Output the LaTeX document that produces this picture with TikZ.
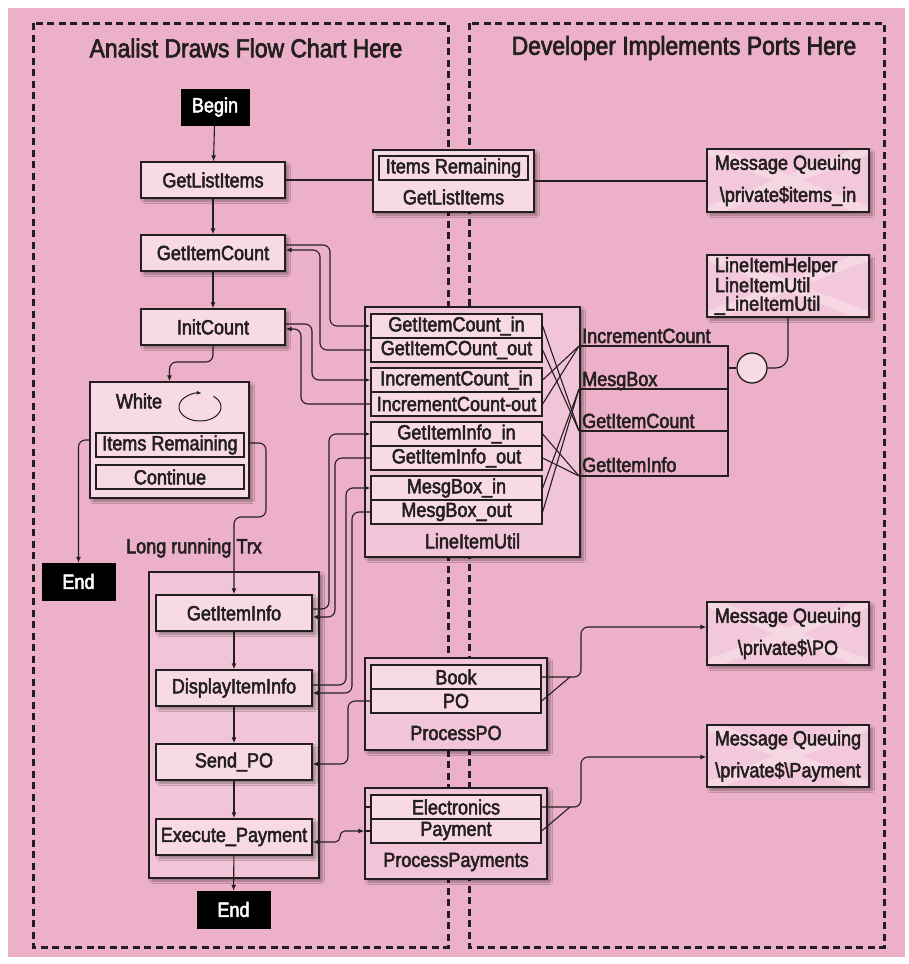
\documentclass[tikz,border=0pt]{standalone}
\usepackage{fontspec}
\setmainfont{Liberation Sans}[FakeStretch=0.88,FakeBold=2.5]
\usetikzlibrary{shadows.blur,arrows.meta}
\definecolor{bgpink}{RGB}{236,176,200}
\definecolor{lightfill}{RGB}{248,218,230}
\definecolor{midfill}{RGB}{242,196,215}
\definecolor{mqfill}{RGB}{243,200,218}
\definecolor{ink}{RGB}{35,31,32}
\tikzset{
  shad/.style={blur shadow={shadow xshift=3pt,shadow yshift=-3pt,shadow blur steps=5,shadow blur radius=2.5pt,shadow opacity=40}},
  fbox/.style={draw=ink,line width=1.4pt,fill=lightfill,inner sep=0pt,minimum width=144pt,minimum height=36pt,shad},
  wbox/.style={fbox,minimum width=156pt},
  term/.style={fill=black,draw=black,text=white,inner sep=0pt,minimum width=73pt,minimum height=37pt},
  cell/.style={draw=ink,line width=1.3pt,fill=lightfill,inner sep=0pt,minimum height=24pt},
  port/.style={cell,minimum width=171pt},
  cont/.style={draw=ink,line width=1.4pt,fill=midfill,inner sep=0pt,shad},
  mqbox/.style={draw=ink,line width=1.4pt,fill=mqfill,inner sep=0pt,minimum width=162pt,minimum height=63pt,shad,
    path picture={\draw[white,opacity=0.3,line width=10pt]
      (path picture bounding box.north west) -- (path picture bounding box.south east)
      (path picture bounding box.north east) -- (path picture bounding box.south west);}},
  lbl/.style={inner sep=0pt},
  conn/.style={draw=ink,line width=1.1pt},
  arr/.style={conn,-{Latex[length=6pt,width=5pt]},rounded corners=7pt},
  barr/.style={conn,{Latex[length=6pt,width=5pt]}-{Latex[length=6pt,width=5pt]},rounded corners=5pt},
  frame/.style={draw=ink,line width=3pt,dash pattern=on 7pt off 4.5pt},
}
\begin{document}
\begin{tikzpicture}[x=1pt,y=-1pt,every node/.style={font=\fontsize{20.5}{22}\selectfont,text=ink}]
\useasboundingbox (0,0) rectangle (909,964);
\fill[bgpink] (8,8) rectangle (905,957);
\draw[frame] (33,23) rectangle (448,947);
\draw[frame] (469,23) rectangle (884,947);
\node[lbl,font=\fontsize{26}{28}\selectfont] (t1) at (246,48) {Analist Draws Flow Chart Here};
\node[lbl,font=\fontsize{26}{28}\selectfont] (t2) at (684,48) {Developer Implements Ports Here};

% left flow
\node[term,minimum width=68pt,minimum height=36pt] (begin) at (215,107) {Begin};
\node[fbox] (gli) at (213,180) {GetListItems};
\node[fbox] (gic) at (213,253) {GetItemCount};
\node[fbox] (ic) at (213,327) {InitCount};
\node[fbox,minimum width=159pt,minimum height=116pt] (white) at (169.5,440) {};
\node[lbl] (whitelbl) at (139,401) {White};
\draw[conn,line width=1pt,-{Latex[length=5pt,width=4pt]}] (213.5,396.3) arc[start angle=-50,end angle=275,x radius=21,y radius=14];
\node[cell,minimum width=148pt] (ir) at (170,445) {Items Remaining};
\node[cell,minimum width=148pt] (cont) at (170,477) {Continue};
\node[term] (endL) at (78.5,581.5) {End};
\node[lbl] (trx) at (194,548) {Long running Trx};
\node[cont,minimum width=170pt,minimum height=306pt] (lrc) at (234,725) {};
\node[wbox] (gii) at (234,613) {GetItemInfo};
\node[wbox] (dii) at (234,688) {DisplayItemInfo};
\node[wbox] (spo) at (234,762) {Send\_PO};
\node[wbox] (exp) at (234,837) {Execute\_Payment};
\node[term] (endB) at (233.5,909.5) {End};

% middle top
\node[fbox,minimum width=161pt,minimum height=62pt] (mid) at (453.5,181) {};
\node[cell,minimum width=149pt] (ir2) at (453.5,168) {Items Remaining};
\node[lbl] (midlbl) at (453.5,197) {GetListItems};

% right boxes
\node[mqbox,align=center,font=\fontsize{20.5}{32}\selectfont] (mq1) at (788,180.5) {Message Queuing\\\textbackslash private\$items\_in};
\node[mqbox,minimum height=62pt,text width=146pt,align=left,font=\fontsize{20.5}{18.5}\selectfont] (lih) at (788,286) {LineItemHelper\\LineItemUtil\\\_LineItemUtil};
\node[mqbox,align=center,font=\fontsize{20.5}{32}\selectfont] (mq2) at (788,633.5) {Message Queuing\\\textbackslash private\$\textbackslash PO};
\node[mqbox,minimum height=62pt,align=center,font=\fontsize{20.5}{32}\selectfont] (mq3) at (788,756) {Message Queuing\\\textbackslash private\$\textbackslash Payment};

% LineItemUtil
\node[cont,minimum width=215pt,minimum height=250pt] (liu) at (472.5,432) {};
\node[lbl] (liulbl) at (472.5,541) {LineItemUtil};
\node[port] (p1) at (456.5,326) {GetItemCount\_in};
\node[port] (p2) at (456.5,350) {GetItemCOunt\_out};
\node[port] (p3) at (456.5,380) {IncrementCount\_in};
\node[port] (p4) at (456.5,404) {IncrementCount-out};
\node[port] (p5) at (456.5,434) {GetItemInfo\_in};
\node[port] (p6) at (456.5,458) {GetItemInfo\_out};
\node[port] (p7) at (456.5,488) {MesgBox\_in};
\node[port] (p8) at (456.5,512) {MesgBox\_out};

% interface
\coordinate (iIC) at (579,346);
\coordinate (iMB) at (579,389);
\coordinate (iGC) at (579,431);
\coordinate (iGI) at (579,476);
\coordinate (iR) at (728,368);
\draw[conn,line width=1.3pt] (iIC) -- (728,346) -- (728,476) -- (iGI);
\draw[conn,line width=1.3pt] (iMB) -- (728,389);
\draw[conn,line width=1.3pt] (iGC) -- (728,431);
\node[lbl,anchor=base west] (lIC) at (582,343) {IncrementCount};
\node[lbl,anchor=base west] (lMB) at (582,386) {MesgBox};
\node[lbl,anchor=base west] (lGC) at (582,428) {GetItemCount};
\node[lbl,anchor=base west] (lGI) at (582,472) {GetItemInfo};
\node[circle,draw=ink,line width=1.3pt,fill=lightfill,minimum size=30pt,inner sep=0pt] (ball) at (752,368) {};
\draw[conn] (iR) -- (ball.west);
\draw[conn,rounded corners=12pt] (ball.east) -| (lih.south);

% ProcessPO / ProcessPayments
\node[cont,minimum width=182pt,minimum height=92pt] (ppo) at (456,704) {};
\node[cell,minimum width=170pt] (book) at (456,677) {Book};
\node[cell,minimum width=170pt] (po) at (456,701) {PO};
\node[lbl] (ppolbl) at (456,733) {ProcessPO};
\node[cont,minimum width=182pt,minimum height=91pt] (pp) at (456,833.5) {};
\node[cell,minimum width=170pt] (elec) at (456,807) {Electronics};
\node[cell,minimum width=170pt] (pay) at (456,831) {Payment};
\node[lbl] (pplbl) at (456,862) {ProcessPayments};

% flow arrows
\draw[arr] (begin) -- (gli);
\draw[arr] (gli) -- (gic);
\draw[arr] (gic) -- (ic);
\draw[arr] (ic.south) -- (213,362) -- (169.5,362) -- (white.north);
\draw[arr] (white.west) -| (endL.north);
\draw[arr] ([yshift=-3pt]white.east) -- (266,443) -- (266,517) -- (234,517) -- (gii.north);
\draw[arr] (gii) -- (dii);
\draw[arr] (dii) -- (spo);
\draw[arr] (spo) -- (exp);
\draw[arr] (exp) -- (endB);

% top middle
\draw[conn] (gli.east) -- (gli.east -| mid.west);
\draw[conn] (mid.east) -- (mid.east -| mq1.west);

% left to ports
\draw[arr] ([yshift=8pt]gic.east) -- (330,245) -- (330,326) -- (p1.west);
\draw[arr] (p2.west) -- (320,350) -- (320,250) -- ([yshift=3pt]gic.east);
\draw[arr] ([yshift=3pt]ic.east) -- (312,324) -- (312,380) -- (p3.west);
\draw[arr] (p4.west) -- (301,404) -- (301,329) -- ([yshift=-2pt]ic.east);
\draw[arr] ([yshift=4pt]gii.east) -- (329,609) -- (329,434) -- (p5.west);
\draw[arr] (p6.west) -- (335,458) -- (335,617) -- ([yshift=-4pt]gii.east);
\draw[arr] ([yshift=3pt]dii.east) -- (346,685) -- (346,488) -- (p7.west);
\draw[arr] (p8.west) -- (352,512) -- (352,693) -- ([yshift=-5pt]dii.east);

% ports to interface
\draw[conn] (p1.east) -- (iGC);
\draw[conn] (p2.east) -- (iGC);
\draw[conn] (p3.east) -- (iIC);
\draw[conn] (p4.east) -- (iIC);
\draw[conn] (p5.east) -- (iGI);
\draw[conn] (p6.east) -- (iGI);
\draw[conn] (p7.east) -- (iMB);
\draw[conn] (p8.east) -- (iMB);

% PO / Payment
\draw[arr] (po.west) -- (348,701) -- (348,764) -- ([yshift=-2pt]spo.east);
\draw[conn] (po.east) -- (570,677);
\draw[arr] (book.east) -- (581,677) -- (581,627) -- ([yshift=6.5pt]mq2.west);
\draw[conn] (pay.east) -- (570,807);
\draw[arr] (elec.east) -- (581,807) -- (581,757) -- ([yshift=-1pt]mq3.west);
\draw[barr] ([yshift=-5pt]exp.east) -- (340,842) -- (340,831) -- (pp.west |- pay.west);
\draw[conn] (pp.west |- pay.west) -- (pay.west);
\draw[conn] (pp.west |- elec.west) -- (elec.west);
\end{tikzpicture}
\end{document}
